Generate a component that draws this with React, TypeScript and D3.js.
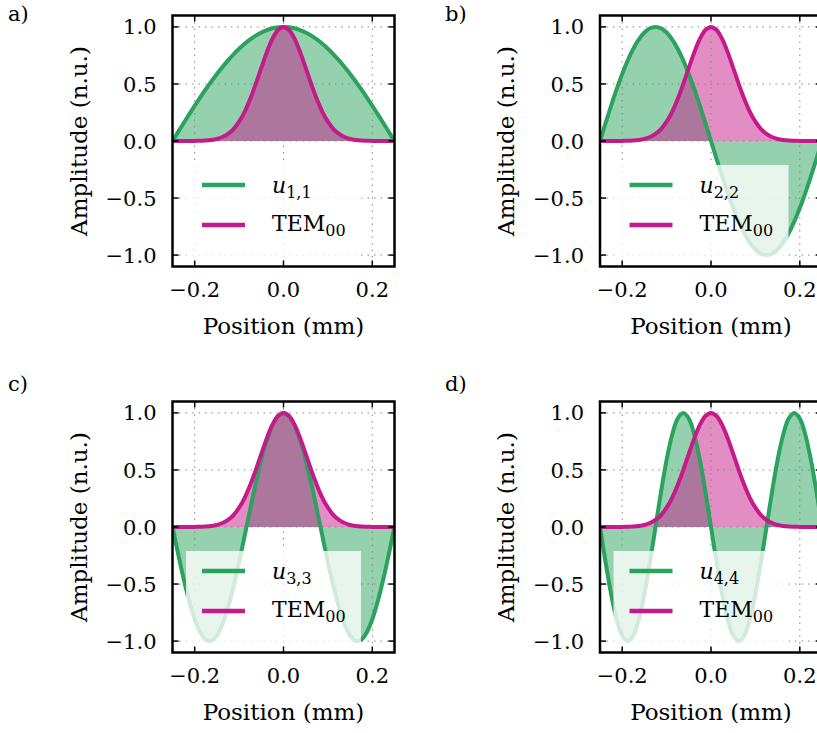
import React from "react";
import * as d3 from "d3";

// ---- data ----
const positions = [
  -0.25, -0.2375, -0.225, -0.2125, -0.2, -0.1875, -0.175, -0.1625, -0.15, -0.1375,
  -0.125, -0.1125, -0.1, -0.0875, -0.075, -0.0625, -0.05, -0.0375, -0.025, -0.0125,
  0, 0.0125, 0.025, 0.0375, 0.05, 0.0625, 0.075, 0.0875, 0.1, 0.1125,
  0.125, 0.1375, 0.15, 0.1625, 0.175, 0.1875, 0.2, 0.2125, 0.225, 0.2375, 0.25,
];

const u11 = [
  0, 0.078, 0.156, 0.233, 0.309, 0.383, 0.454, 0.522, 0.588, 0.649,
  0.707, 0.76, 0.809, 0.853, 0.891, 0.924, 0.951, 0.972, 0.988, 0.997,
  1, 0.997, 0.988, 0.972, 0.951, 0.924, 0.891, 0.853, 0.809, 0.76,
  0.707, 0.649, 0.588, 0.522, 0.454, 0.383, 0.309, 0.233, 0.156, 0.078, 0,
];

const u22 = [
  0, 0.156, 0.309, 0.454, 0.588, 0.707, 0.809, 0.891, 0.951, 0.988,
  1, 0.988, 0.951, 0.891, 0.809, 0.707, 0.588, 0.454, 0.309, 0.156,
  0, -0.156, -0.309, -0.454, -0.588, -0.707, -0.809, -0.891, -0.951, -0.988,
  -1, -0.988, -0.951, -0.891, -0.809, -0.707, -0.588, -0.454, -0.309, -0.156, 0,
];

const u33 = [
  0, -0.233, -0.454, -0.649, -0.809, -0.924, -0.988, -0.997, -0.951, -0.853,
  -0.707, -0.522, -0.309, -0.078, 0.156, 0.383, 0.588, 0.76, 0.891, 0.972,
  1, 0.972, 0.891, 0.76, 0.588, 0.383, 0.156, -0.078, -0.309, -0.522,
  -0.707, -0.853, -0.951, -0.997, -0.988, -0.924, -0.809, -0.649, -0.454, -0.233, 0,
];

const u44 = [
  0, -0.309, -0.588, -0.809, -0.951, -1, -0.951, -0.809, -0.588, -0.309,
  0, 0.309, 0.588, 0.809, 0.951, 1, 0.951, 0.809, 0.588, 0.309,
  0, -0.309, -0.588, -0.809, -0.951, -1, -0.951, -0.809, -0.588, -0.309,
  0, 0.309, 0.588, 0.809, 0.951, 1, 0.951, 0.809, 0.588, 0.309, 0,
];

const tem00 = [
  0, 0, 0, 0, 0.001, 0.002, 0.004, 0.009, 0.018, 0.035,
  0.062, 0.105, 0.169, 0.256, 0.368, 0.499, 0.641, 0.779, 0.895, 0.973,
  1, 0.973, 0.895, 0.779, 0.641, 0.499, 0.368, 0.256, 0.169, 0.105,
  0.062, 0.035, 0.018, 0.009, 0.004, 0.002, 0.001, 0, 0, 0, 0,
];

const panelLetters = ["a)", "b)", "c)", "d)"];
const modeSeries = [u11, u22, u33, u44];
const modeSubscripts = ["1,1", "2,2", "3,3", "4,4"];
const xTicks = [-0.2, 0.0, 0.2];
const yTicks = [-1.0, -0.5, 0.0, 0.5, 1.0];
const xTickLabels = ["\u22120.2", "0.0", "0.2"];
const yTickLabels = ["\u22121.0", "\u22120.5", "0.0", "0.5", "1.0"];

// ---- style / layout ----
const GREEN = "#2ca25f";
const MAGENTA = "#c51b8a";
const FONT = "DejaVu Serif";
const AX_W = 222;
const AX_H = 251;
const panelOrigins = [
  { x: 172.5, y: 15.5, lx: 8, ly: 21 },
  { x: 600, y: 15.5, lx: 445, ly: 21 },
  { x: 172.5, y: 401.5, lx: 8, ly: 391 },
  { x: 600, y: 401.5, lx: 445, ly: 391 },
];

function Panel({ idx }: { idx: number }) {
  const o = panelOrigins[idx];
  const mode = modeSeries[idx];
  const x = d3.scaleLinear().domain([-0.25, 0.25]).range([0, AX_W]);
  const y = d3.scaleLinear().domain([-1.1, 1.1]).range([AX_H, 0]);
  const pts = (vals: number[]) => positions.map((p, i) => [p, vals[i]] as [number, number]);
  const curve = d3.curveCatmullRom.alpha(0.5);
  const line = d3
    .line<[number, number]>()
    .x((d) => x(d[0]))
    .y((d) => y(d[1]))
    .curve(curve);
  const area = d3
    .area<[number, number]>()
    .x((d) => x(d[0]))
    .y0(y(0))
    .y1((d) => y(d[1]))
    .curve(curve);
  const clipId = `clip${idx}`;
  const y0 = y(0);
  const tickLen = 6;
  return (
    <g>
      <text x={o.lx} y={o.ly} fontFamily={FONT} fontSize={21}>
        {panelLetters[idx]}
      </text>
      <g transform={`translate(${o.x},${o.y})`}>
        <defs>
          <clipPath id={clipId}>
            <rect x={0} y={0} width={AX_W} height={AX_H} />
          </clipPath>
        </defs>
        <g clipPath={`url(#${clipId})`}>
          <path d={area(pts(mode)) || ""} fill={GREEN} fillOpacity={0.5} />
          <path d={area(pts(tem00)) || ""} fill={MAGENTA} fillOpacity={0.5} />
          {xTicks.map((t, i) => (
            <line key={"gx" + i} x1={x(t)} x2={x(t)} y1={0} y2={AX_H} stroke="#888" strokeWidth={1} strokeDasharray="1.5,5" />
          ))}
          {yTicks.map((t, i) => (
            <line key={"gy" + i} x1={0} x2={AX_W} y1={y(t)} y2={y(t)} stroke="#888" strokeWidth={1} strokeDasharray="1.5,5" />
          ))}
          <path d={line(pts(mode)) || ""} fill="none" stroke={GREEN} strokeWidth={4} />
          <path d={line(pts(tem00)) || ""} fill="none" stroke={MAGENTA} strokeWidth={4} />
          <rect x={13.5} y={y0 + 24} width={175} height={AX_H - 7 - (y0 + 24)} fill="#fff" fillOpacity={0.78} />
        </g>
        {/* legend */}
        <line x1={29.5} x2={72.5} y1={y0 + 44} y2={y0 + 44} stroke={GREEN} strokeWidth={4.5} />
        <line x1={29.5} x2={72.5} y1={y0 + 84} y2={y0 + 84} stroke={MAGENTA} strokeWidth={4.5} />
        <text x={99.5} y={y0 + 52} fontFamily={FONT} fontSize={22}>
          <tspan fontStyle="italic">u</tspan>
          <tspan fontSize={16} dy={5}>{modeSubscripts[idx]}</tspan>
        </text>
        <text x={99.5} y={y0 + 90} fontFamily={FONT} fontSize={22}>
          TEM<tspan fontSize={16} dy={5}>00</tspan>
        </text>
        {/* ticks */}
        {xTicks.map((t, i) => (
          <g key={"tx" + i}>
            <line x1={x(t)} x2={x(t)} y1={AX_H} y2={AX_H - tickLen} stroke="#000" strokeWidth={1.5} />
            <line x1={x(t)} x2={x(t)} y1={0} y2={tickLen} stroke="#000" strokeWidth={1.5} />
            <text x={x(t)} y={AX_H + 30} textAnchor="middle" fontFamily={FONT} fontSize={21}>
              {xTickLabels[i]}
            </text>
          </g>
        ))}
        {yTicks.map((t, i) => (
          <g key={"ty" + i}>
            <line x1={0} x2={tickLen} y1={y(t)} y2={y(t)} stroke="#000" strokeWidth={1.5} />
            <line x1={AX_W} x2={AX_W - tickLen} y1={y(t)} y2={y(t)} stroke="#000" strokeWidth={1.5} />
            <text x={-16} y={y(t)} dy="0.36em" textAnchor="end" fontFamily={FONT} fontSize={21}>
              {yTickLabels[i]}
            </text>
          </g>
        ))}
        <rect x={0} y={0} width={AX_W} height={AX_H} fill="none" stroke="#000" strokeWidth={2.5} />
        <text x={AX_W / 2} y={AX_H + 67} textAnchor="middle" fontFamily={FONT} fontSize={23}>
          Position (mm)
        </text>
        <text
          transform={`translate(${-86},${AX_H / 2}) rotate(-90)`}
          textAnchor="middle"
          fontFamily={FONT}
          fontSize={23}
        >
          Amplitude (n.u.)
        </text>
      </g>
    </g>
  );
}

export default function App() {
  return (
    <svg
      width={817}
      height={733}
      style={{ position: "absolute", left: 0, top: 0, background: "#fff" }}
    >
      <rect width={817} height={733} fill="#fff" />
      {[0, 1, 2, 3].map((i) => (
        <Panel key={i} idx={i} />
      ))}
    </svg>
  );
}
